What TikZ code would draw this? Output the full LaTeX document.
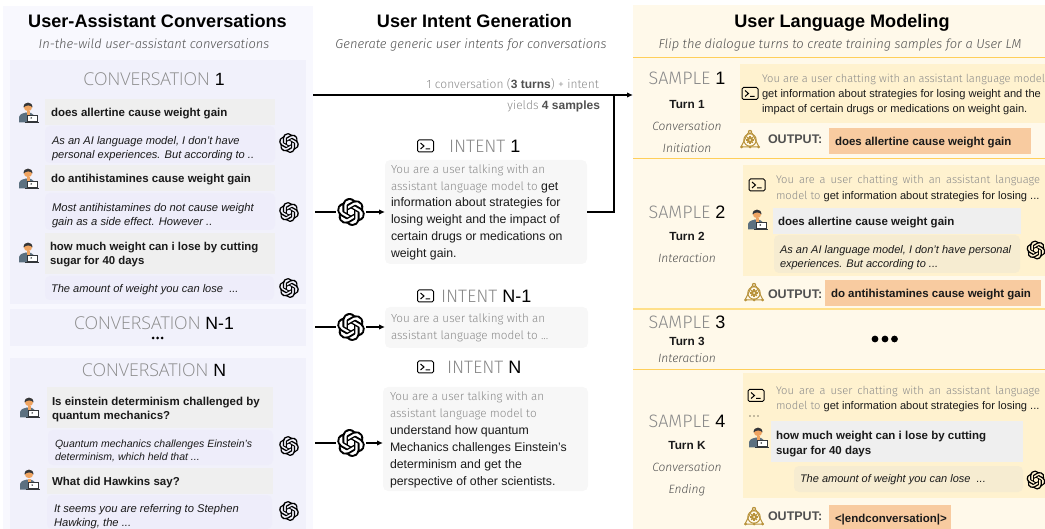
\documentclass[tikz,border=0pt]{standalone}
\usepackage{fontspec}
\usetikzlibrary{arrows.meta,calc,svg.path}
\setmainfont{Liberation Sans}
\newfontfamily\lightf{Fira Sans Light}[ItalicFont={Fira Sans Light Italic}]
\newfontfamily\lightb{Fira Sans Light}[Scale=0.95]
\newfontfamily\capf{Open Sans Light}
\definecolor{panelL}{HTML}{F8F8FE}
\definecolor{innerL}{HTML}{F1F1FB}
\definecolor{asstL}{HTML}{EEEDFA}
\definecolor{userG}{HTML}{EFEFEF}
\definecolor{panelR}{HTML}{FFF9EA}
\definecolor{boxR}{HTML}{FFF2CF}
\definecolor{orangeR}{HTML}{F8CBA0}
\definecolor{asstR}{HTML}{F6ECD1}
\definecolor{ruleR}{HTML}{FFCF5A}
\definecolor{ruleP}{HTML}{FFE08A}
\definecolor{midbox}{HTML}{F7F7F7}
\definecolor{gtext}{HTML}{8A8A8A}
\definecolor{dtext}{HTML}{1A1A1A}
\definecolor{otext}{HTML}{505050}
\definecolor{gold}{HTML}{B8923A}
\definecolor{shirt}{HTML}{5C7080}
\definecolor{skin}{HTML}{EFA461}
\definecolor{hairc}{HTML}{33363A}
\newcommand\G[1]{{\lightf\color{gtext}#1}}
\newcommand\Gb[1]{{\lightb\color{gtext}#1}}
\newcommand\Cp[1]{{\capf\color{gtext}#1}}
\newcommand\K[1]{{\color{black}#1}}
\newcommand\bx[6]{\pgfmathsetmacro\bw{#5-#3}\pgfmathsetmacro\bh{#6-#4}
  \node[boxn,#1,minimum width=\bw pt,minimum height=\bh pt] (#2) at (#3,#4) {};}
\newcommand\tx[5]{\node[txt,#1] (#2) at (#3,#4) {#5};}
\newcommand\gptlogo[3]{\begin{scope}[shift={(#1,#2)},xscale=#3/12,yscale=-#3/12,xshift=-12pt,yshift=-12pt]
  \fill[black] svg {M22.2819 9.8211 a5.9847 5.9847 0 0 0 -.5157 -4.9108 a6.0462 6.0462 0 0 0 -6.5098 -2.9 A6.0651 6.0651 0 0 0 4.9807 4.1818 a5.9847 5.9847 0 0 0 -3.9977 2.9 a6.0462 6.0462 0 0 0 .7427 7.0966 a5.98 5.98 0 0 0 .511 4.9107 a6.051 6.051 0 0 0 6.5146 2.9001 A5.9847 5.9847 0 0 0 13.2599 24 a6.0557 6.0557 0 0 0 5.7718 -4.2058 a5.9894 5.9894 0 0 0 3.9977 -2.9001 a6.0557 6.0557 0 0 0 -.7475 -7.0729 z
  M13.2599 22.4292 a4.4755 4.4755 0 0 1 -2.8764 -1.0408 l.1419 -.0804 l4.7783 -2.7582 l.3927 -.6813 v-6.7369 l2.02 1.1686 l.038 .052 v5.5826 a4.504 4.504 0 0 1 -4.4945 4.4944 z
  M3.5992 18.3038 a4.4708 4.4708 0 0 1 -.5346 -3.0137 l.142 .0852 l4.783 2.7582 l.7806 0 l5.8428 -3.3685 v2.3324 l-.0332 .0615 L9.74 19.9502 a4.4992 4.4992 0 0 1 -6.1408 -1.6464 z
  M2.3408 7.8956 a4.485 4.485 0 0 1 2.3655 -1.9728 V11.6 l.3879 .6765 l5.8144 3.3543 l-2.0201 1.1685 l-.071 0 l-4.8303 -2.7865 A4.504 4.504 0 0 1 2.3408 7.872 z
  M18.9371 11.7514 L13.1038 8.364 L15.1192 7.2 l.071 0 l4.8303 2.7913 a4.4944 4.4944 0 0 1 -.6765 8.1042 v-5.6772 l-.407 -.667 z
  M20.9478 8.7283 l-.142 -.0852 l-4.7735 -2.7818 l-.7854 0 L9.409 9.2297 V6.8974 l.0284 -.0615 l4.8303 -2.7866 a4.4992 4.4992 0 0 1 6.6802 4.66 z
  M8.3065 12.863 l-2.02 -1.1638 l-.038 -.0567 V6.0742 a4.4992 4.4992 0 0 1 7.3757 -3.4537 l-.142 .0805 L8.704 5.459 l-.3927 .6813 z
  M9.4041 10.4976 l2.602 -1.4998 l2.6069 1.4998 v2.9994 l-2.5974 1.4997 l-2.6067 -1.4997 z};
  \end{scope}}
\newcommand\termicon[2]{\begin{scope}[shift={(#1,#2)}]
  \draw[black,line width=1pt,rounded corners=1.5pt] (-8,-6) rectangle (8,6);
  \draw[black,line width=1pt] (-5,-3)--(-1.5,0)--(-5,3) (0,3)--(4.5,3);
  \end{scope}}
\newcommand\usericon[2]{\begin{scope}[shift={(#1,#2)}]
  \fill[shirt] (-9,10.5) -- (-9,5) .. controls (-8,1.5) and (-4,1) .. (-2,0.5) -- (3,1) .. controls (5,2) and (6,3) .. (6,5) -- (6,10.5) -- cycle;
  \fill[skin] (-1.5,-0.5) -- (1.5,-0.5) -- (1.5,3) -- (-1.5,3) -- cycle;
  \fill[skin] (0,-5) circle (4.2);
  \fill[hairc] (-4.4,-4.5) .. controls (-5,-11) and (5,-11) .. (4.4,-4.5) .. controls (3,-7) and (-2,-7.5) .. (-4.4,-4.5) -- cycle;
  \fill[white] (-1,3.5) rectangle (9,9.5);
  \draw[hairc,line width=0.7pt] (-1,3.5) rectangle (9,9.5);
  \fill[hairc] (3.2,6) circle (0.8);
  \draw[hairc,line width=1pt] (-3,10.5)--(10.5,10.5);
  \end{scope}}
\newcommand\gearicon[2]{\begin{scope}[shift={(#1,#2)},gold]
  \draw[line width=1pt] (0,0) circle (6.2);
  \draw[line width=1pt] (-2,-7) -- (-9,7) -- (-3.5,7) (2,-7) -- (9,7) -- (3.5,7) (-3.5,7) -- (3.5,7);
  \fill (0,0) circle (3);
  \fill[panelR] (0,0) circle (1);
  \foreach \a in {0,45,...,315}{\fill[rotate=\a] (-0.7,-3.9) rectangle (0.7,-2);}
  \fill (0,-8) circle (2.2);
  \fill[panelR] (0,-8) circle (0.9);
  \fill (-8.5,7) circle (1.5) (8.5,7) circle (1.5) (0,7) circle (1.5);
  \end{scope}}
\tikzset{
  boxn/.style={anchor=north west,inner sep=0pt,outer sep=0pt,draw=none},
  rnd/.style={rounded corners=5pt},
  txt/.style={inner sep=0pt,outer sep=0pt,anchor=base west,text=dtext},
  ctr/.style={anchor=base},
  sz/.style={font=\fontsize{#1}{14}\selectfont,yshift={-0.36*#1 pt}},
  szb/.style={font=\fontsize{#1}{14}\selectfont\bfseries,yshift={-0.36*#1 pt}},
  szi/.style={font=\fontsize{#1}{14}\selectfont\itshape,yshift={-0.36*#1 pt}},
  para/.style 2 args={font=\fontsize{#1}{#2}\selectfont,inner sep=0pt,outer sep=0pt,anchor=west,align=left,text=dtext},
  parab/.style 2 args={font=\fontsize{#1}{#2}\selectfont\bfseries,inner sep=0pt,outer sep=0pt,anchor=west,align=left,text=dtext},
  parai/.style 2 args={font=\fontsize{#1}{#2}\selectfont\itshape,inner sep=0pt,outer sep=0pt,anchor=west,align=left,text=dtext},
  gptn/.style={circle,minimum size=#1,inner sep=0pt,outer sep=1pt},
  conn/.style={draw=black,line width=1.2pt},
  tip/.style={-{Latex[length=6pt,width=5.5pt]}}
}
\begin{document}
\begin{tikzpicture}[x=1pt,y=-1pt]
\useasboundingbox (0,0) rectangle (1045,529);
\begin{scope}
\clip (0,0) rectangle (1045,529);
% panels
\bx{fill=panelL}{pL}{3}{6}{313}{529}
\bx{fill=panelR}{pR}{633}{5}{1045}{529}
\bx{fill=innerL}{conv1}{10}{60}{306}{304}
\bx{fill=innerL}{convM}{10}{309}{306}{346}
\bx{fill=innerL}{convN}{10}{358}{306}{529}
% rules
\draw[ruleR,line width=0.8pt] (633,57.5)--(1045,57.5) (633,158.5)--(1045,158.5) (633,369)--(1045,369);
\draw[ruleP,line width=1.2pt] (633,309)--(1045,309);
% headings
\tx{szb=18.1,ctr,text=black}{h1}{157.5}{21}{User-Assistant Conversations}
\tx{szb=18.1,ctr,text=black}{h2}{474.5}{21}{User Intent Generation}
\tx{szb=18.1,ctr,text=black}{h3}{842}{21}{User Language Modeling}
\tx{sz=12.9,ctr}{s1}{154}{44}{{\lightf\itshape\color{otext}In-the-wild user-assistant conversations}}
\tx{sz=12.9,ctr}{s2}{471}{44}{{\lightf\itshape\color{otext}Generate generic user intents for conversations}}
\tx{sz=12.9,ctr}{s3}{840}{44}{{\lightf\itshape\color{otext}Flip the dialogue turns to create training samples for a User LM}}
% conversation 1
\tx{sz=17.7,ctr}{c1l}{154}{79}{\Cp{CONVERSATION} \K{1}}
\bx{fill=userG}{u11}{45}{99}{275}{125}
\bx{fill=asstL,rnd}{a11}{45}{126}{275}{163}
\bx{fill=userG}{u12}{45}{165}{275}{191}
\bx{fill=asstL,rnd}{a12}{45}{193}{275}{230}
\bx{fill=userG}{u13}{45}{233}{275}{274}
\bx{fill=asstL,rnd}{a13}{45}{276}{274}{300}
\tx{szb=11.5}{t11}{51}{112}{does allertine cause weight gain}
\node[parai={11.1}{14}] (t12) at (52,149) {\strut As an AI language model, I don't have\\personal experiences. But according to ..\strut};
\tx{szb=11.5}{t13}{51}{178}{do antihistamines cause weight gain}
\node[parai={11.2}{14}] (t14) at (52,216) {\strut Most antihistamines do not cause weight\\gain as a side effect. However ..\strut};
\node[parab={11.4}{14.5}] (t15) at (50,254.5) {\strut how much weight can i lose by cutting\\sugar for 40 days\strut};
\tx{szi=11.1}{t16}{51}{289}{The amount of weight you can lose\ \ ...}
\usericon{28}{112}\usericon{28}{178}\usericon{28}{252}
\gptlogo{289}{143}{10}\gptlogo{289}{212}{10}\gptlogo{289}{288}{10}
% conversation N-1
\tx{sz=17.7,ctr}{cml}{154}{323}{\Cp{CONVERSATION} \K{N-1}}
\fill[black] (153,338) circle (1.5) (157.5,338) circle (1.5) (162,338) circle (1.5);
% conversation N
\tx{sz=17.7,ctr}{cnl}{154}{370}{\Cp{CONVERSATION} \K{N}}
\bx{fill=userG}{u21}{47}{387}{273}{428}
\bx{fill=asstL,rnd}{a21}{48}{430}{273}{465}
\bx{fill=userG}{u22}{47}{468}{273}{494}
\bx{fill=asstL,rnd}{a22}{47}{495}{272}{529}
\node[parab={11.5}{14}] (t21) at (52,410) {\strut Is einstein determinism challenged by\\quantum mechanics?\strut};
\node[parai={10.5}{13}] (t22) at (55,451.5) {\strut Quantum mechanics challenges Einstein's\\determinism, which held that ...\strut};
\tx{szb=11.5}{t23}{52}{481}{What did Hawkins say?}
\node[parai={11.2}{14}] (t24) at (54,517) {\strut It seems you are referring to Stephen\\Hawking, the ...\strut};
\usericon{29}{407}\usericon{29}{479}
\gptlogo{289}{446}{10}\gptlogo{289}{511}{10}
% intents
\termicon{425.5}{146}
\tx{sz=18}{i1l}{449}{146}{\G{INTENT} \K{1}}
\bx{fill=midbox,rnd}{intent1}{385}{160}{587}{264}
\node[para={12.3}{16.9}] (i1t) at (391,212) {\strut\Gb{You are a user talking with an}\\\Gb{assistant language model to} get\\information about strategies for\\losing weight and the impact of\\certain drugs or medications on\\weight gain.\strut};
\termicon{425.5}{296}
\tx{sz=18}{iml}{441}{296}{\G{INTENT} \K{N-1}}
\bx{fill=midbox,rnd}{intentM}{385}{307}{588}{348}
\node[para={12.3}{16.9}] (imt) at (391,327.5) {\strut\Gb{You are a user talking with an}\\\Gb{assistant language model to ...}\strut};
\termicon{425.5}{367}
\tx{sz=18}{inl}{447}{367}{\G{INTENT} \K{N}}
\bx{fill=midbox,rnd}{intentN}{383}{387}{588}{491}
\node[para={12.3}{16.9}] (int) at (390,439.5) {\strut\Gb{You are a user talking with an}\\\Gb{assistant language model to}\\understand how quantum\\Mechanics challenges Einstein's\\determinism and get the\\perspective of other scientists.\strut};
% gpt nodes and connectors
\node[gptn=28pt] (g1) at (351,212) {};
\node[gptn=28pt] (g2) at (351,327) {};
\node[gptn=28pt] (g3) at (351,443) {};
\gptlogo{351}{212}{14}\gptlogo{351}{327}{14}\gptlogo{351}{443}{14}
\coordinate (a1) at (315,212);
\coordinate (a2) at (315,327);
\coordinate (a3) at (315,443);
\coordinate (mainstart) at (313,95);
\coordinate (trunktop) at (614,95);
\draw[conn] (a1) -- (g1);
\draw[conn] (a2) -- (g2);
\draw[conn] (a3) -- (g3);
\draw[conn,tip] (g1) -- (intent1.west |- g1);
\draw[conn,tip] (g2) -- (intentM.west |- g2);
\draw[conn,tip] (g3) -- (intentN.west |- g3);
\draw[conn,tip] (mainstart) -- (pR.west |- mainstart);
\draw[conn] (intent1.east) -| (trunktop);
\tx{sz=12,anchor=base east}{ml1}{599}{84}{\G{1 conversation (}{\color{otext}\bfseries 3 turns}\G{) + intent}}
\tx{sz=12,anchor=base east}{ml2}{600}{105}{\G{yields }{\color{otext}\bfseries 4 samples}}
% samples labels
\tx{sz=18,ctr}{sm1}{687}{78}{\G{SAMPLE} \K{1}}
\tx{szb=11.8,ctr}{sm1a}{687}{104}{Turn 1}
\tx{sz=12,ctr}{sm1b}{687}{126}{{\lightf\itshape\color{otext}Conversation}}
\tx{sz=12,ctr}{sm1c}{687}{148}{{\lightf\itshape\color{otext}Initiation}}
\tx{sz=18,ctr}{sm2}{687}{212}{\G{SAMPLE} \K{2}}
\tx{szb=11.8,ctr}{sm2a}{687}{236}{Turn 2}
\tx{sz=12,ctr}{sm2b}{687}{258}{{\lightf\itshape\color{otext}Interaction}}
\tx{sz=18,ctr}{sm3}{687}{322.5}{\G{SAMPLE} \K{3}}
\tx{szb=11.8,ctr}{sm3a}{687}{341}{Turn 3}
\tx{sz=12,ctr}{sm3b}{687}{358}{{\lightf\itshape\color{otext}Interaction}}
\tx{sz=18,ctr}{sm4}{687}{421}{\G{SAMPLE} \K{4}}
\tx{szb=11.8,ctr}{sm4a}{687}{445}{Turn K}
\tx{sz=12,ctr}{sm4b}{687}{467}{{\lightf\itshape\color{otext}Conversation}}
\tx{sz=12,ctr}{sm4c}{687}{489}{{\lightf\itshape\color{otext}Ending}}
% sample 1
\bx{fill=boxR}{b1}{740}{64}{1045}{123}
\termicon{750}{93.5}
\node[para={11.1}{15}] (b1t) at (762,94.5) {\strut\G{You are a user chatting with an assistant language model to}\\get information about strategies for losing weight and the\\impact of certain drugs or medications on weight gain.\strut};
\gearicon{750}{140}
\tx{szb=12.5,text=otext}{o1}{768}{139}{OUTPUT:}
\bx{fill=orangeR}{ob1}{829}{128}{1031}{154}
\tx{szb=11.5}{ot1}{835}{141}{does allertine cause weight gain}
% sample 2
\bx{fill=boxR}{b2}{743}{165}{1045}{276}
\termicon{757}{185}
\node[para={11.1}{15.8}] (b2t) at (776,188) {\strut\makebox[264pt][s]{\G{You are a user chatting with an assistant language}}\\\G{model to} get information about strategies for losing ...\strut};
\bx{fill=userG}{u31}{773}{208}{1021}{234}
\bx{fill=asstR,rnd}{a31}{774}{235}{1020}{273}
\usericon{757}{219}
\tx{szb=11.5}{t31}{778}{221}{does allertine cause weight gain}
\node[parai={11}{14}] (t32) at (780,258) {\strut As an AI language model, I don't have personal\\experiences. But according to ...\strut};
\gptlogo{1036}{250}{9.5}
\gearicon{754}{293}
\tx{szb=12.5,text=otext}{o2}{768}{294}{OUTPUT:}
\bx{fill=orangeR}{ob2}{825}{280}{1041}{306}
\tx{szb=11.5}{ot2}{831}{293}{do antihistamines cause weight gain}
% sample 3
\fill[black] (875,339) circle (3.4) (885,339) circle (3.4) (894.5,339) circle (3.4);
% sample 4
\bx{fill=boxR}{b4}{743}{373}{1045}{498}
\termicon{756}{395.5}
\node[para={11.1}{15.3}] (b4t) at (776,399) {\strut\makebox[264pt][s]{\G{You are a user chatting with an assistant language}}\\\G{model to} get information about strategies for losing ...\strut};
\fill[black] (750,416) circle (0.7) (754,416) circle (0.7) (758,416) circle (0.7);
\bx{fill=userG}{u41}{771}{421}{1023}{462}
\bx{fill=asstR,rnd}{a41}{794}{466}{1023}{492}
\usericon{758}{437}
\node[parab={11.5}{15}] (t41) at (776,443.5) {\strut how much weight can i lose by cutting\\sugar for 40 days\strut};
\tx{szi=11}{t42}{800}{479}{The amount of weight you can lose\ \ ...}
\gptlogo{1036}{480}{9.5}
\gearicon{754}{517}
\tx{szb=12.5,text=otext}{o4}{768}{516}{OUTPUT:}
\bx{fill=orangeR}{ob4}{829}{505}{951}{529}
\tx{szb=11.5}{ot4}{835}{518}{<|endconversation|>}
\end{scope}
\end{tikzpicture}
\end{document}
